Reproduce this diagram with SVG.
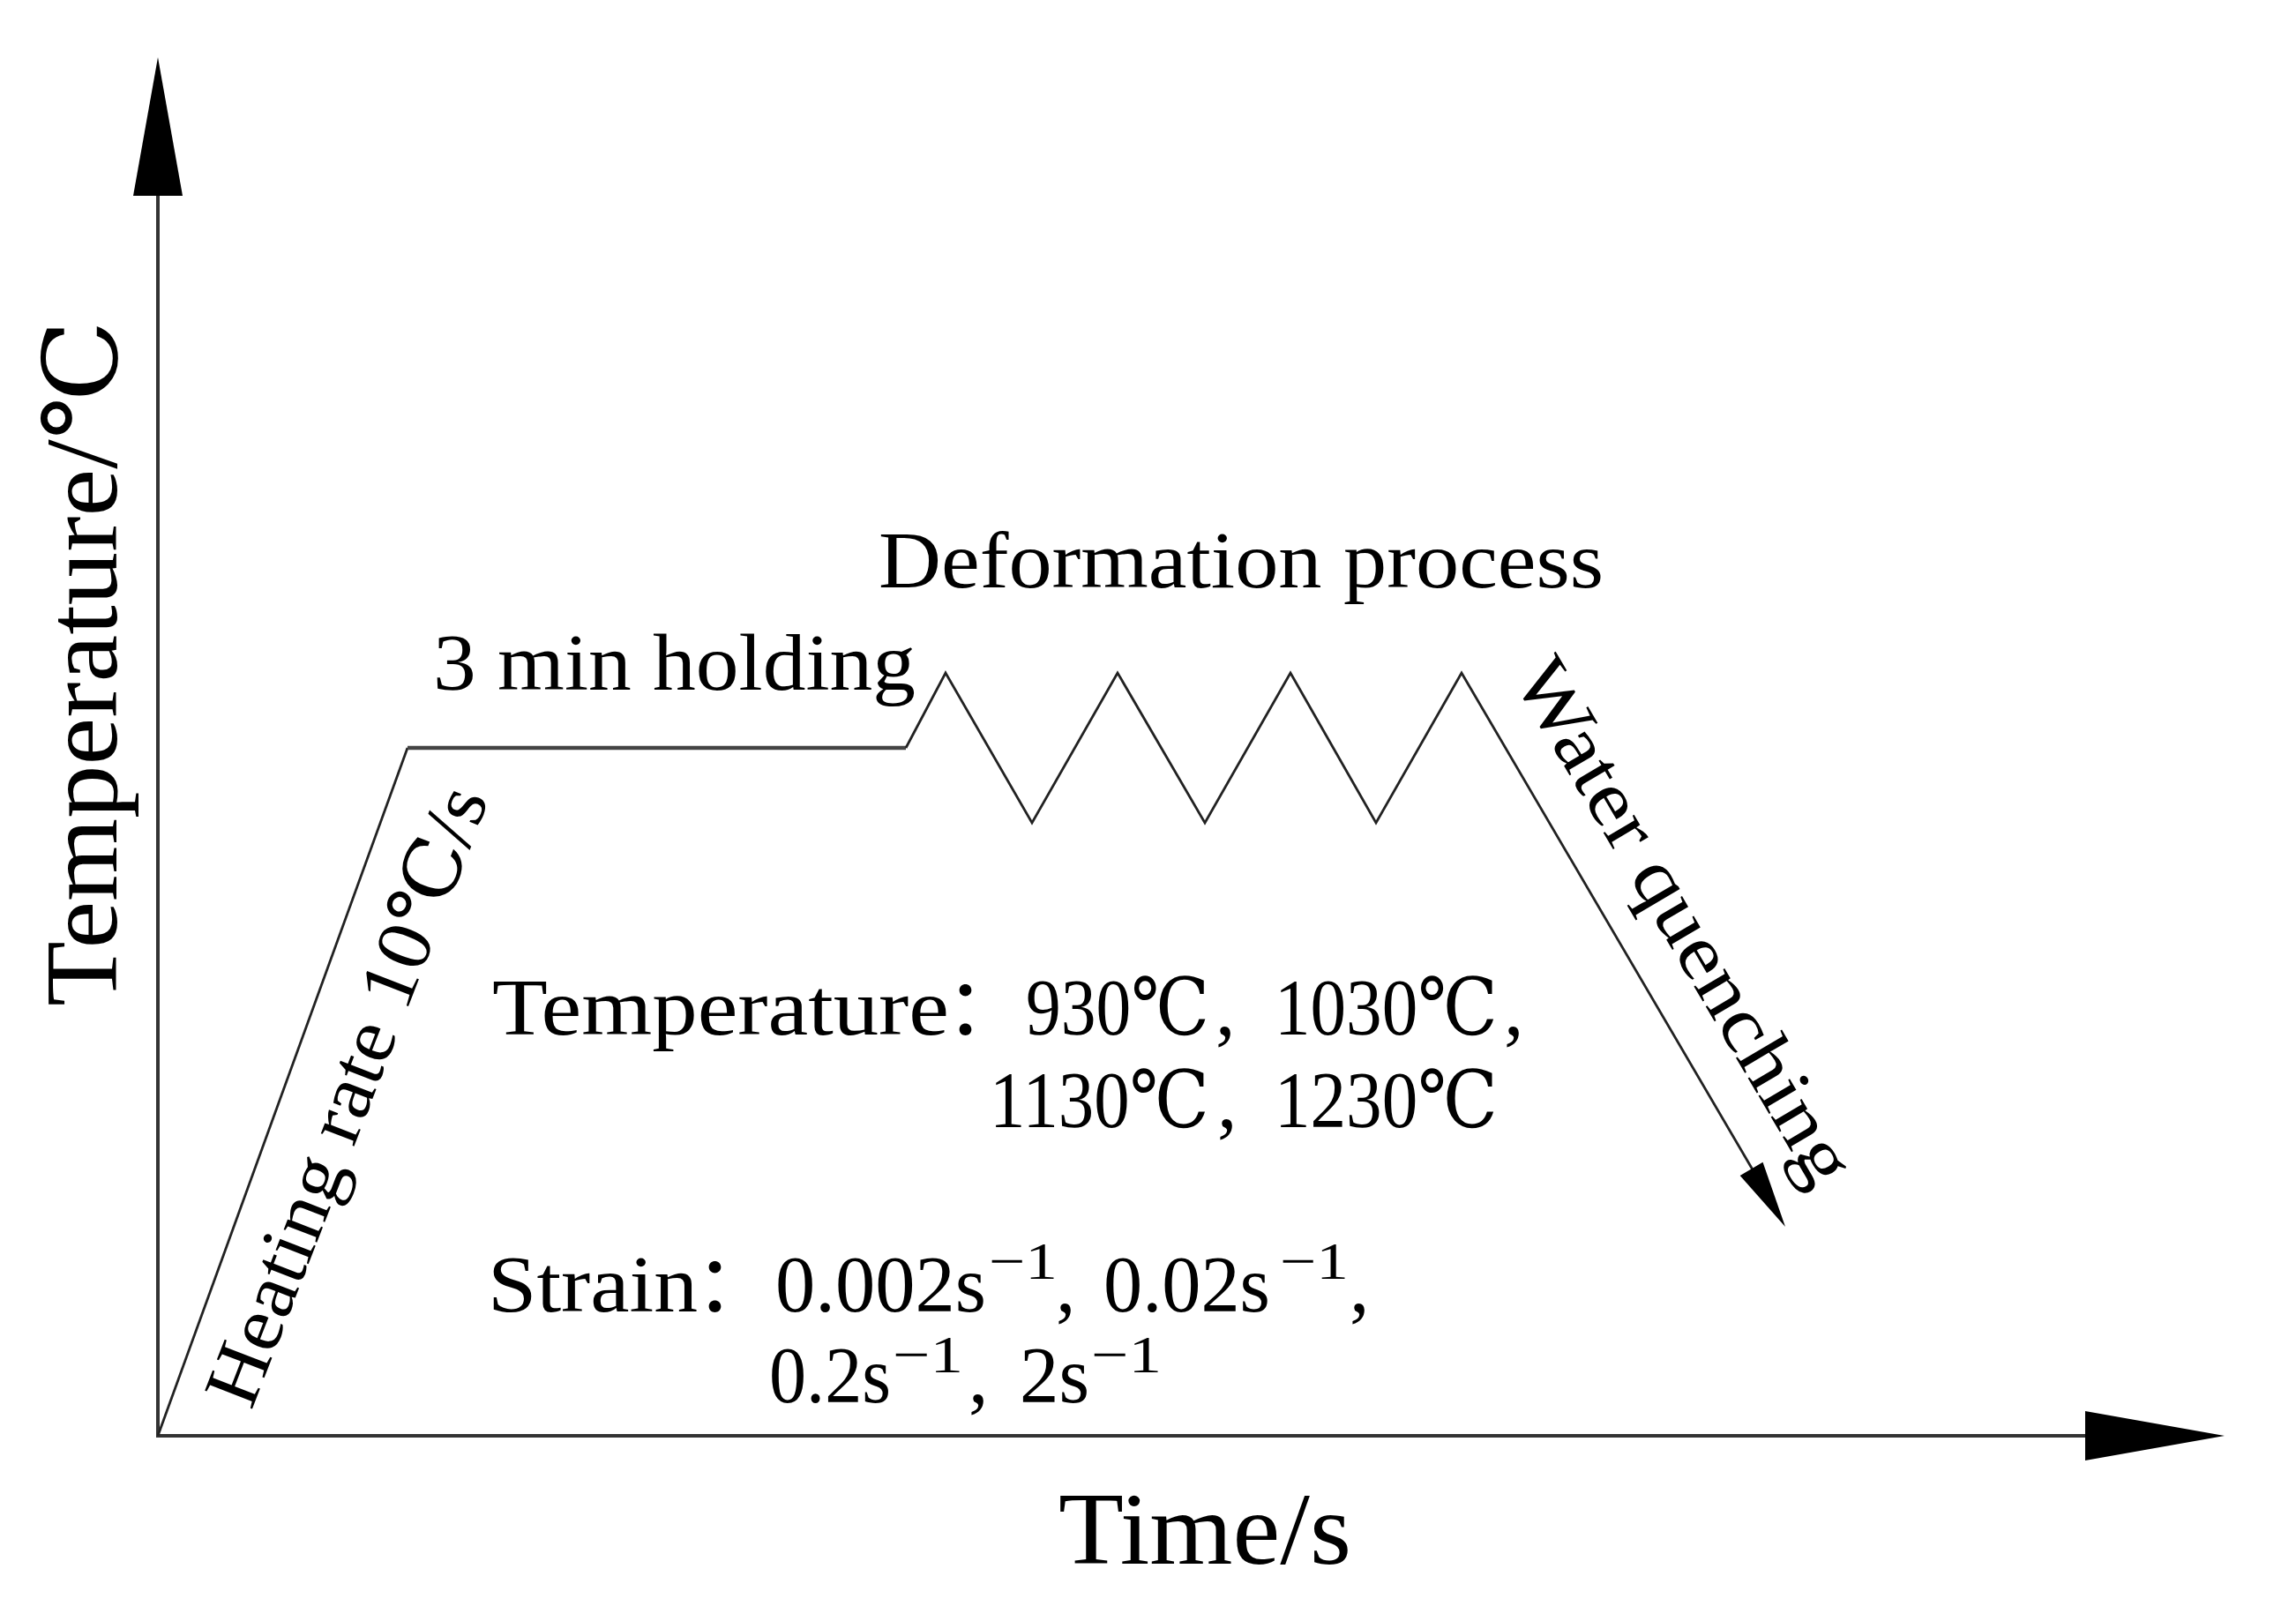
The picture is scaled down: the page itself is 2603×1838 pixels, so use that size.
<svg xmlns="http://www.w3.org/2000/svg" width="2603" height="1838" viewBox="0 0 2603 1838">
<style>
.t{font-family:"Liberation Serif","DejaVu Serif","Noto Sans CJK SC",serif;fill:#000;}
.ax{stroke:#333;stroke-width:4;fill:none;}
.ln{stroke:#222;stroke-width:2.8;fill:none;stroke-linejoin:miter;}
.pl{stroke:#444;stroke-width:4.5;fill:none;}
.ah{fill:#000;stroke:none;}
</style>
<rect width="2603" height="1838" fill="#fff"/>
<g id="axes">
<line class="ax" x1="179" y1="1628" x2="179" y2="215"/>
<polygon class="ah" points="179,65 151,222 207,222"/>
<line class="ax" x1="177" y1="1628" x2="2370" y2="1628"/>
<polygon class="ah" points="2522,1628 2364,1600 2364,1656"/>
</g>
<g id="connectors">
<path class="ln" d="M179,1628 L462,848"/>
<path class="pl" d="M462,848 L1027,848"/>
<path class="ln" d="M1027,848 L1072,763 L1170,933 L1267,763 L1366,933 L1463,763 L1560,933 L1657,763 L1988,1328"/>
<polygon class="ah" points="2024,1391 1998.5,1317.8 1972.7,1333"/>
</g>
<g id="label-y-axis">
<text class="t" transform="translate(132,1141) rotate(-90)" font-size="116" textLength="778" lengthAdjust="spacingAndGlyphs">Temperature/℃</text>
</g>
<g id="label-x-axis">
<text class="t" x="1200" y="1773" font-size="116" textLength="332" lengthAdjust="spacingAndGlyphs">Time/s</text>
</g>
<g id="label-heating">
<text class="t" transform="translate(285,1600) rotate(-68.8)" font-size="88" textLength="745" lengthAdjust="spacingAndGlyphs">Heating rate 10℃/s</text>
</g>
<g id="label-holding">
<text class="t" x="491" y="782" font-size="90" textLength="547" lengthAdjust="spacingAndGlyphs">3 min holding</text>
</g>
<g id="label-deformation">
<text class="t" x="996" y="666" font-size="92" textLength="822" lengthAdjust="spacingAndGlyphs">Deformation process</text>
</g>
<g id="label-quenching">
<text class="t" transform="translate(1714,768) rotate(59.5)" font-size="88" textLength="676" lengthAdjust="spacingAndGlyphs">Water quenching</text>
</g>
<g id="label-temperature">
<text class="t" font-size="90">
<tspan x="558" y="1173" textLength="518" lengthAdjust="spacingAndGlyphs">Temperature</tspan><tspan x="1072" y="1173">：</tspan><tspan x="1163" y="1173" textLength="208" lengthAdjust="spacingAndGlyphs">930℃</tspan><tspan x="1378" y="1173">,</tspan><tspan x="1445" y="1173" textLength="253" lengthAdjust="spacingAndGlyphs">1030℃</tspan><tspan x="1705" y="1173">,</tspan>
<tspan x="1122" y="1278" textLength="249" lengthAdjust="spacingAndGlyphs">1130℃</tspan><tspan x="1380" y="1278">,</tspan><tspan x="1445" y="1278" textLength="253" lengthAdjust="spacingAndGlyphs">1230℃</tspan>
</text>
</g>
<g id="label-strain">
<text class="t" font-size="90">
<tspan x="553" y="1487" textLength="238" lengthAdjust="spacingAndGlyphs">Strain</tspan><tspan x="788" y="1487">：</tspan><tspan x="879" y="1487" textLength="239" lengthAdjust="spacingAndGlyphs">0.002s</tspan><tspan x="1121" y="1450" font-size="60" textLength="78" lengthAdjust="spacingAndGlyphs">−1</tspan><tspan x="1197" y="1487">,</tspan><tspan x="1251" y="1487" textLength="189" lengthAdjust="spacingAndGlyphs">0.02s</tspan><tspan x="1451" y="1450" font-size="60" textLength="78" lengthAdjust="spacingAndGlyphs">−1</tspan><tspan x="1530" y="1487">,</tspan>
<tspan x="872" y="1590" textLength="138" lengthAdjust="spacingAndGlyphs">0.2s</tspan><tspan x="1012" y="1556" font-size="60" textLength="80" lengthAdjust="spacingAndGlyphs">−1</tspan><tspan x="1098" y="1590">,</tspan><tspan x="1156" y="1590" textLength="79" lengthAdjust="spacingAndGlyphs">2s</tspan><tspan x="1237" y="1556" font-size="60" textLength="80" lengthAdjust="spacingAndGlyphs">−1</tspan>
</text>
</g>
</svg>
